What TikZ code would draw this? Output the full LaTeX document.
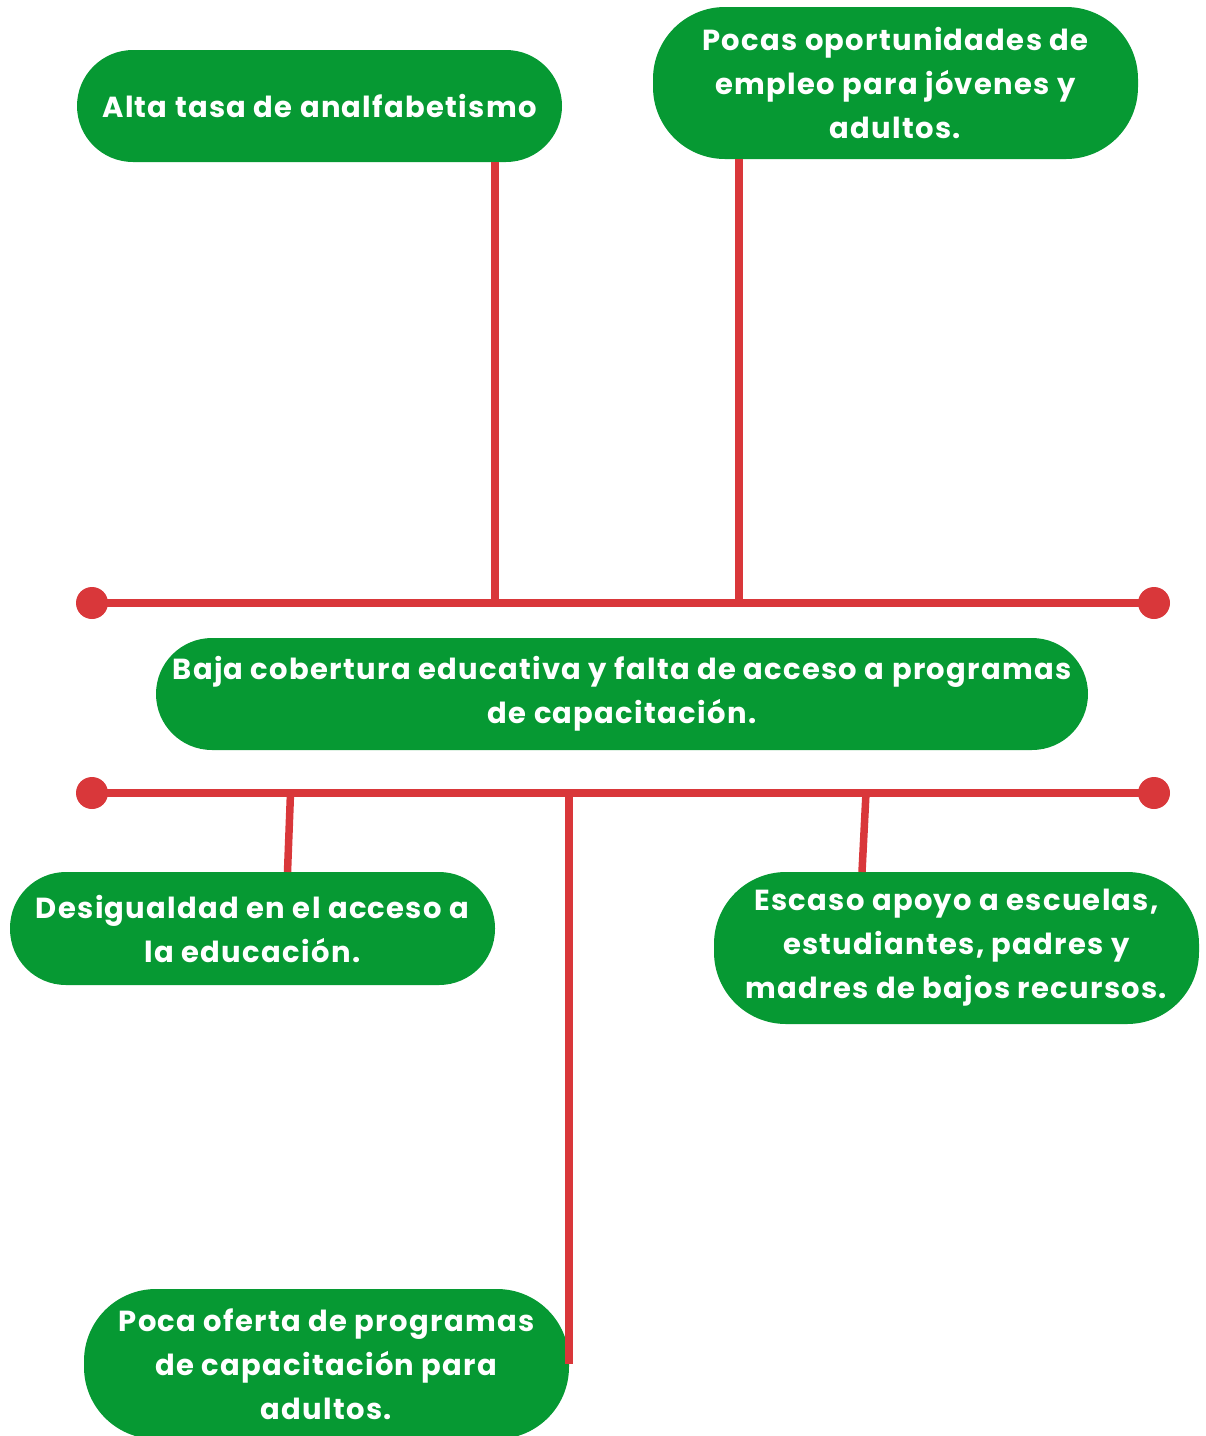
\documentclass[tikz,border=0pt]{standalone}
\usepackage{fontspec}
\setmainfont{Poppins}[BoldFont={* Bold}, LetterSpace=4.5]
\definecolor{rl}{HTML}{D9373A}
\definecolor{gb}{HTML}{069933}
\begin{document}
\begin{tikzpicture}[x=1pt,y=-1pt,
  box/.style={fill=gb, text=white, align=center, inner sep=0pt,
    font=\bfseries\fontsize{29}{44}\selectfont},
  conn/.style={draw=rl, line width=7.5pt},
  dot/.style={fill=rl}]
\useasboundingbox (0,0) rectangle (1206,1436);
% boxes
\node[box, minimum width=485pt, minimum height=112pt, rounded corners=56pt] (b1) at (319.5,106) {Alta tasa de analfabetismo};
\node[box, minimum width=485pt, minimum height=152pt, rounded corners=72pt] (b2) at (895.5,83) {Pocas oportunidades de\\empleo para jóvenes y\\adultos.};
\node[box, minimum width=932pt, minimum height=112pt, rounded corners=56pt] (b3) at (622,694) {Baja cobertura educativa y falta de acceso a programas\\de capacitación.};
\node[box, minimum width=485pt, minimum height=113pt, rounded corners=56pt] (b4) at (252.5,928.5) {Desigualdad en el acceso a\\la educación.};
\node[box, minimum width=485pt, minimum height=152pt, rounded corners=72pt] (b5) at (956.5,948) {Escaso apoyo a escuelas,\\estudiantes, padres y\\madres de bajos recursos.};
\node[box, minimum width=485pt, minimum height=150pt, rounded corners=72pt] (b6) at (326.5,1364) {Poca oferta de programas\\de capacitación para\\adultos.};
% coordinates
\coordinate (tl) at (92,603);
\coordinate (tr) at (1154,603);
\coordinate (bl) at (92,793);
\coordinate (br) at (1154,793);
\coordinate (t1) at (495,603);
\coordinate (t2) at (739,603);
\coordinate (s1) at (290.5,793);
\coordinate (s1e) at (287.5,872);
\coordinate (s2) at (569,793);
\coordinate (s2e) at (569,1364);
\coordinate (s3) at (866,793);
\coordinate (s3e) at (862,872);
% connectors
\draw[conn] (b1.south -| t1) -- (t1);
\draw[conn] (b2.south -| t2) -- (t2);
\draw[conn] (tl) -- (tr);
\draw[conn] (bl) -- (br);
\draw[conn] (s1) -- (s1e);
\draw[conn] (s2) -- (s2e);
\draw[conn] (s3) -- (s3e);
\fill[dot] (tl) circle (16);
\fill[dot] (tr) circle (16);
\fill[dot] (bl) circle (16);
\fill[dot] (br) circle (16);
\end{tikzpicture}
\end{document}
